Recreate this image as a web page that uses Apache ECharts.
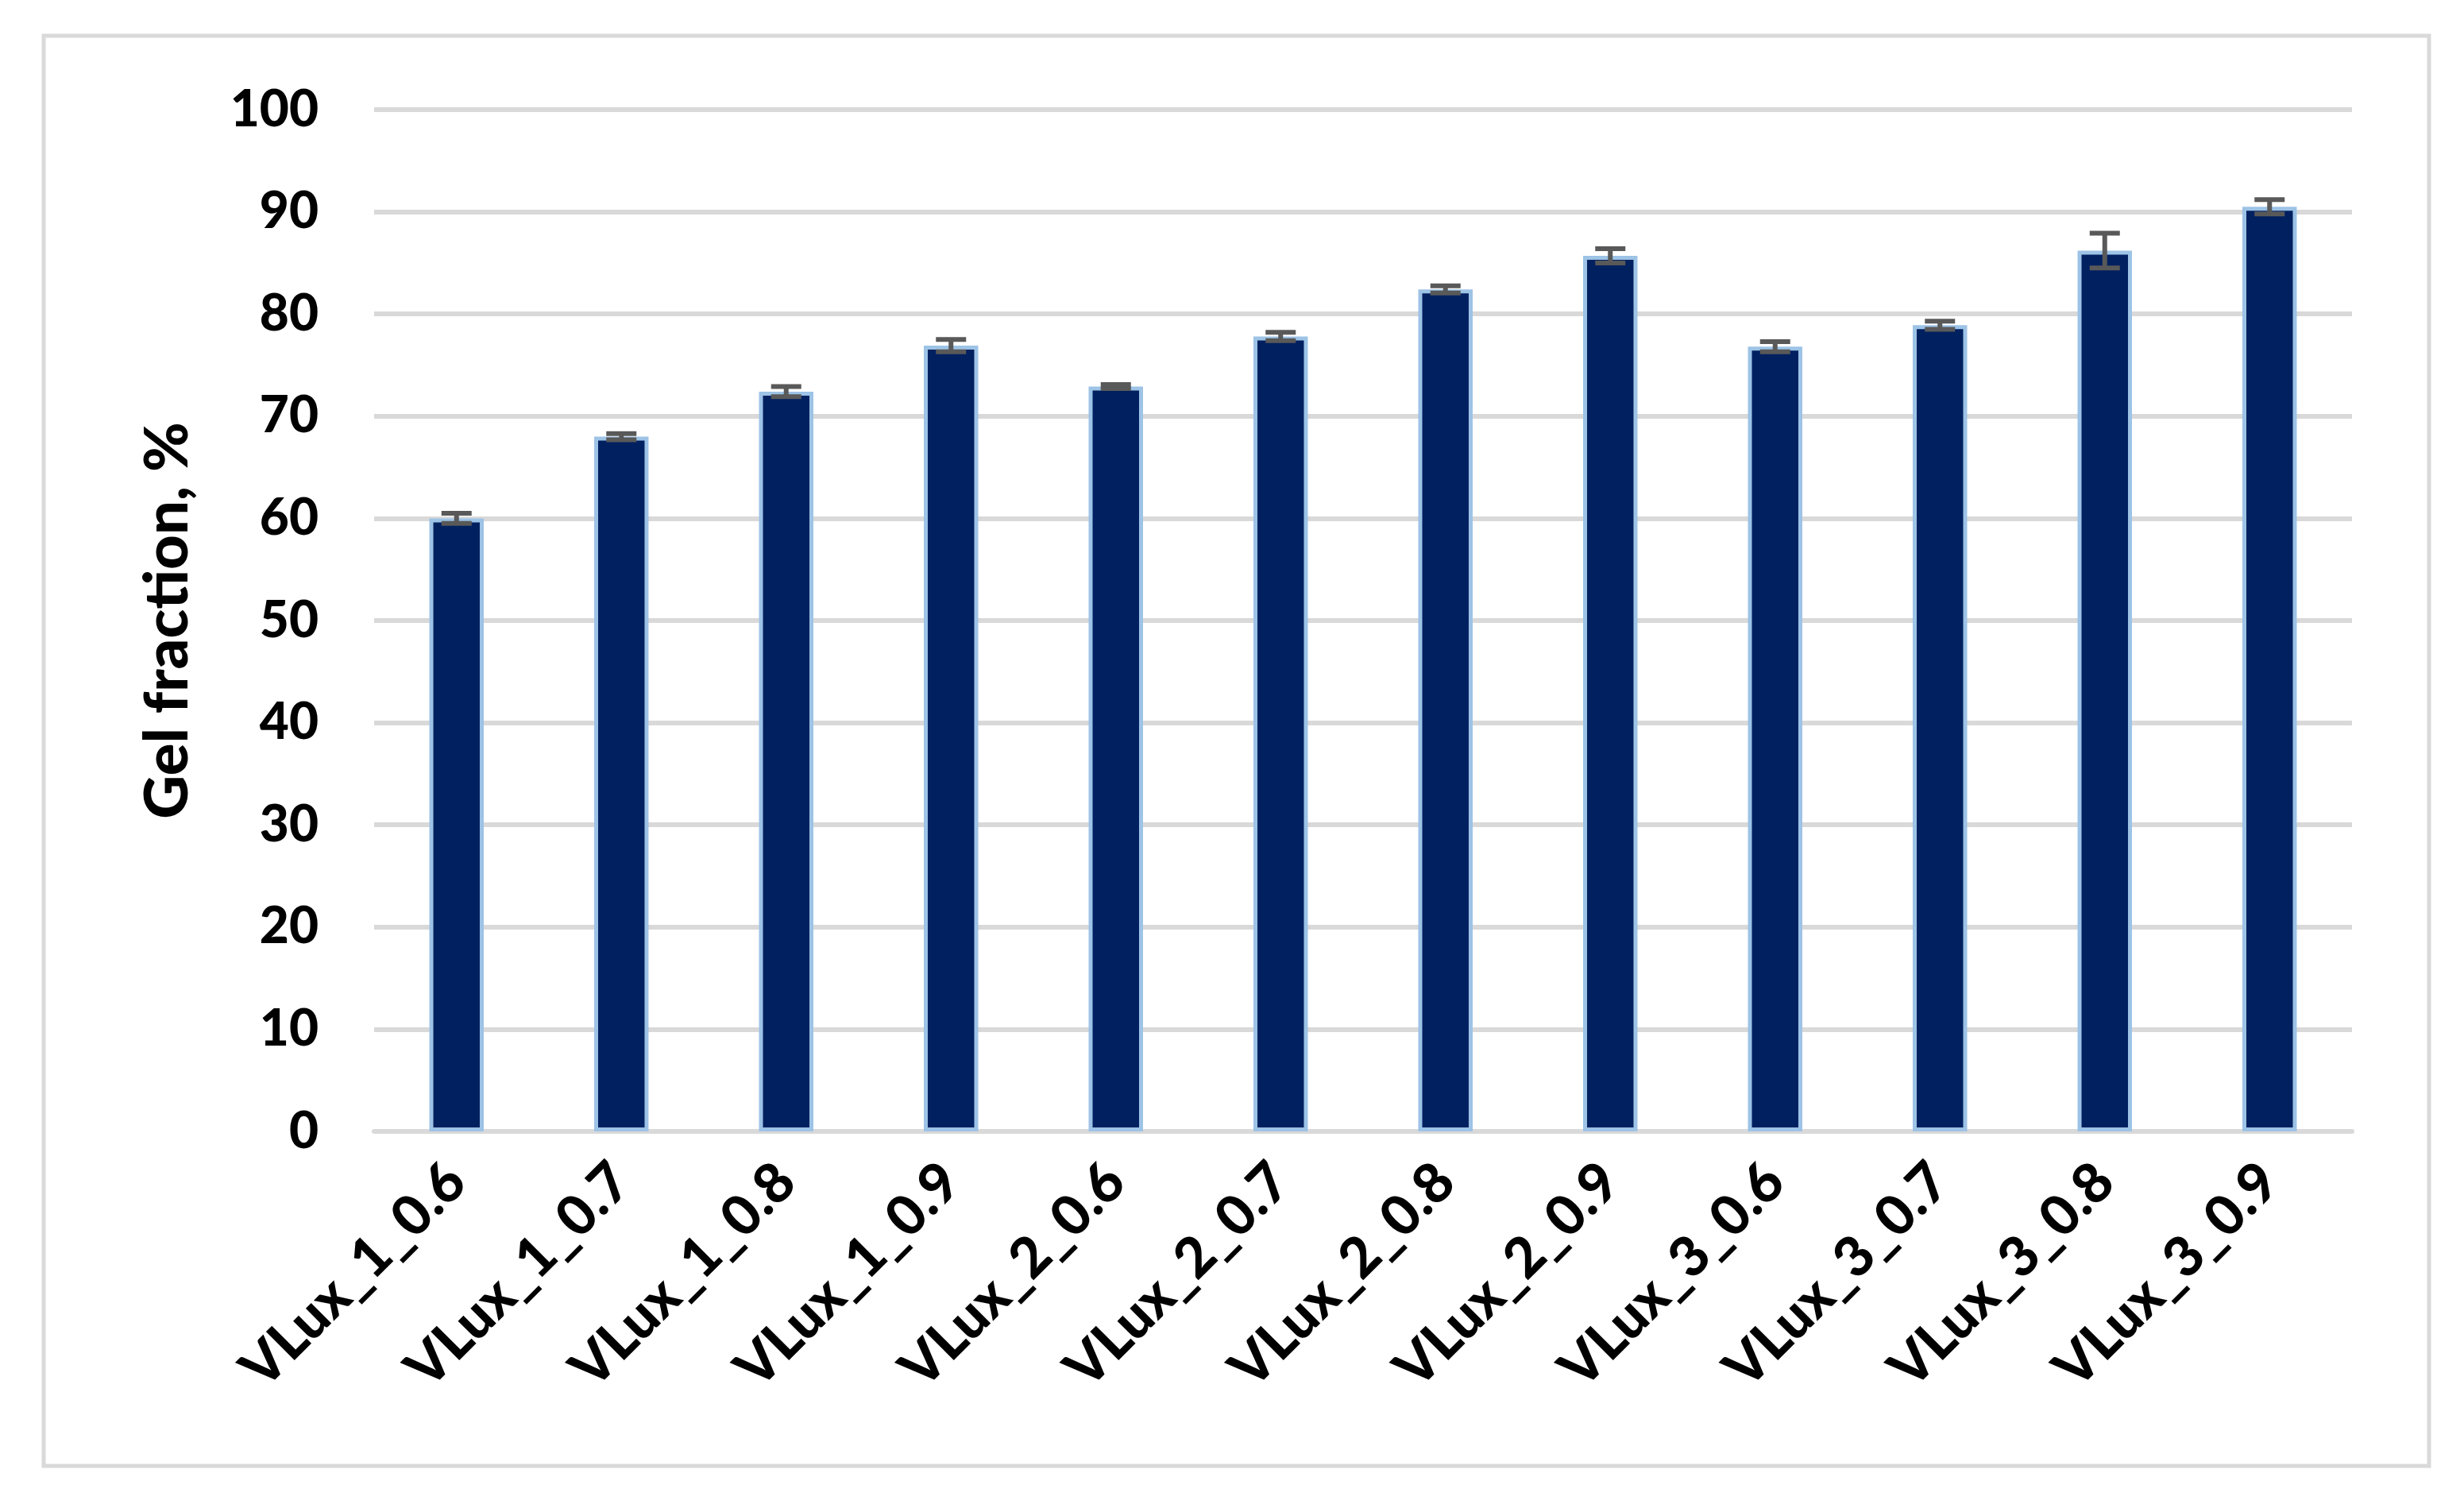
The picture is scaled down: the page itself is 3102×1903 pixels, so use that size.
<!DOCTYPE html>
<html>
<head>
<meta charset="utf-8">
<script src="https://cdn.jsdelivr.net/npm/echarts@6/dist/echarts.min.js"></script>
<style>
  html, body { margin: 0; padding: 0; background: #fff; }
  #box { width: 3102px; height: 1903px; }
</style>
</head>
<body>
<div id="box"></div>
<script>
const categories = ['VLux_1_0.6', 'VLux_1_0.7', 'VLux_1_0.8', 'VLux_1_0.9',
  'VLux_2_0.6', 'VLux_2_0.7', 'VLux_2_0.8', 'VLux_2_0.9',
  'VLux_3_0.6', 'VLux_3_0.7', 'VLux_3_0.8', 'VLux_3_0.9'];
const gelFraction = [60.0, 68.0, 72.4, 76.9, 72.9, 77.8, 82.4, 85.7, 76.8, 78.9, 86.2, 90.5];
const gelError = [0.5, 0.3, 0.5, 0.6, 0.2, 0.4, 0.35, 0.7, 0.5, 0.4, 1.7, 0.7];

const font = 'Lato, "Open Sans", sans-serif';

let myecharts = echarts.init(document.getElementById('box'));
let options = {
  animation: false,
  backgroundColor: '#fff',
  // outer chart frame
  graphic: [{
    type: 'rect',
    shape: { x: 55, y: 45, width: 3003, height: 1800 },
    style: { fill: 'none', stroke: '#d9d9d9', lineWidth: 5 },
    silent: true
  }],
  grid: { left: 471, right: 141, top: 138, bottom: 479 },
  xAxis: {
    type: 'category',
    data: categories,
    axisLine: { lineStyle: { color: '#d9d9d9', width: 6 } },
    axisTick: { show: false },
    axisLabel: {
      rotate: 45,
      margin: 52,
      color: '#000',
      fontFamily: font,
      fontWeight: 900,
      fontSize: 70,
      interval: 0
    }
  },
  yAxis: {
    type: 'value',
    min: 0,
    max: 100,
    interval: 10,
    name: 'Gel fraction, %',
    nameLocation: 'middle',
    nameGap: 222,
    nameTextStyle: { color: '#000', fontFamily: font, fontWeight: 900, fontSize: 76 },
    axisLine: { show: false },
    axisTick: { show: false },
    splitLine: { lineStyle: { color: '#d9d9d9', width: 6 } },
    axisLabel: {
      margin: 70,
      color: '#000',
      fontFamily: font,
      fontWeight: 900,
      fontSize: 64
    }
  },
  series: [{
    type: 'bar',
    data: gelFraction,
    barWidth: '33%',
    itemStyle: {
      color: '#002060',
      borderColor: '#9dc3e6',
      borderWidth: 5
    }
  }, {
    type: 'custom',
    data: gelFraction.map((v, i) => [i, v, gelError[i]]),
    z: 5,
    renderItem: function (params, api) {
      let i = api.value(0);
      let top = api.coord([i, api.value(1) + api.value(2)]);
      let bot = api.coord([i, api.value(1) - api.value(2)]);
      let half = 19;
      let style = { stroke: '#595959', lineWidth: 6, fill: null };
      return {
        type: 'group',
        children: [
          { type: 'line', shape: { x1: top[0], y1: top[1], x2: bot[0], y2: bot[1] }, style: style },
          { type: 'line', shape: { x1: top[0] - half, y1: top[1], x2: top[0] + half, y2: top[1] }, style: style },
          { type: 'line', shape: { x1: bot[0] - half, y1: bot[1], x2: bot[0] + half, y2: bot[1] }, style: style }
        ]
      };
    }
  }]
};
myecharts.setOption(options);
window.onresize = function () {
  myecharts.resize();
};
</script>
</body>
</html>
